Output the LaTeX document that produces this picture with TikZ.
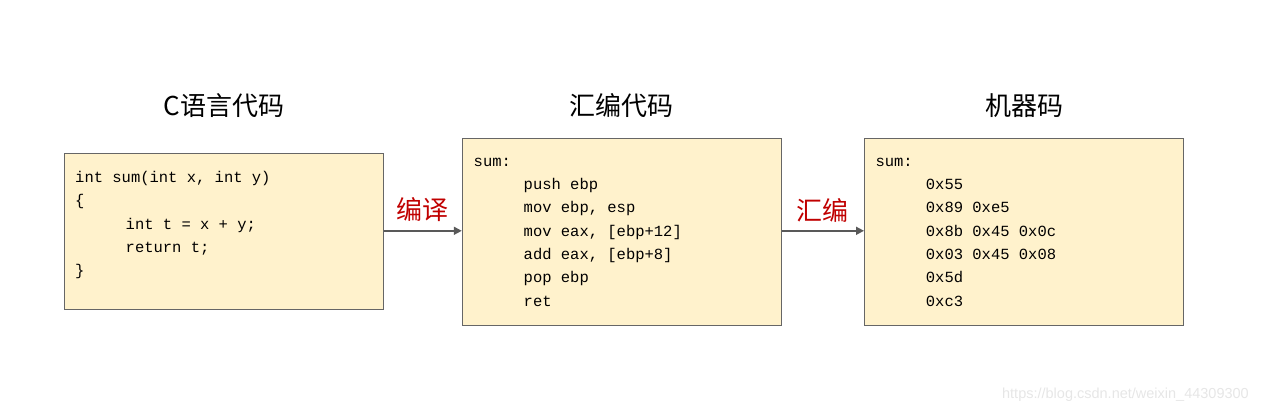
\documentclass[tikz,border=0pt]{standalone}
\usepackage{fontspec}
\setmonofont{Liberation Mono}
\newfontfamily\cjkfont{Noto Sans CJK SC}
\newfontfamily\wmfont{Liberation Sans}
\usetikzlibrary{arrows.meta}
\definecolor{boxfill}{HTML}{FFF2CC}
\definecolor{boxline}{HTML}{666666}
\definecolor{arrowgray}{HTML}{595959}
\definecolor{labelred}{HTML}{C00000}
\definecolor{wmgray}{HTML}{E6E6E6}
\tikzset{
  codebox/.style={draw=boxline, fill=boxfill, line width=1pt, minimum width=319pt, inner sep=0pt},
  codeline/.style={anchor=base west, inner sep=0pt, font=\fontsize{15.5}{18}\ttfamily},
  titletext/.style={inner sep=0pt, font=\fontsize{26}{30}\cjkfont},
  steplabel/.style={inner sep=0pt, text=labelred, font=\fontsize{26}{30}\cjkfont},
  flow/.style={draw=arrowgray, line width=1.6pt, -{Triangle[length=8pt,width=8pt]}}
}
\begin{document}
\begin{tikzpicture}[x=1pt,y=-1pt]
\useasboundingbox (0,0) rectangle (1262,413);
% boxes
\node[codebox, minimum height=156pt] (cbox) at (223.8,231.3) {};
\node[codebox, minimum height=187pt] (abox) at (621.8,231.6) {};
\node[codebox, minimum height=187pt] (mbox) at (1024,231.6) {};
% titles
\node[titletext] (ctitle) at (223.8,105.5) {C语言代码};
\node[titletext] (atitle) at (621.8,105.5) {汇编代码};
\node[titletext] (mtitle) at (1024,105.5) {机器码};
% C code
\node[codeline] (c1) at (75,182.7) {int sum(int x, int y)};
\node[codeline] (c2) at (75,205.9) {\{};
\node[codeline] (c3) at (125.5,229.1) {int t = x + y;};
\node[codeline] (c4) at (125.5,252.3) {return t;};
\node[codeline] (c5) at (75,275.5) {\}};
% assembly
\node[codeline] (a1) at (473.5,166) {sum:};
\node[codeline] (a2) at (523.5,189.3) {push ebp};
\node[codeline] (a3) at (523.5,212.7) {mov ebp, esp};
\node[codeline] (a4) at (523.5,236) {mov eax, [ebp+12]};
\node[codeline] (a5) at (523.5,259.3) {add eax, [ebp+8]};
\node[codeline] (a6) at (523.5,282.7) {pop ebp};
\node[codeline] (a7) at (523.5,306) {ret};
% machine code
\node[codeline] (m1) at (875.3,166) {sum:};
\node[codeline] (m2) at (925.7,189.3) {0x55};
\node[codeline] (m3) at (925.7,212.7) {0x89 0xe5};
\node[codeline] (m4) at (925.7,236) {0x8b 0x45 0x0c};
\node[codeline] (m5) at (925.7,259.3) {0x03 0x45 0x08};
\node[codeline] (m6) at (925.7,282.7) {0x5d};
\node[codeline] (m7) at (925.7,306) {0xc3};
% arrows
\draw[flow] (cbox.east |- 0,230.8) coordinate (s1) -- (abox.west |- s1);
\draw[flow] (abox.east |- 0,230.8) coordinate (s2) -- (mbox.west |- s2);
\node[steplabel] (lbl1) at (422.5,210) {编译};
\node[steplabel] (lbl2) at (822,210) {汇编};
% watermark
\node[inner sep=0pt, anchor=east, text=wmgray, font=\fontsize{14.5}{16}\wmfont] (wm) at (1249,395) {https://blog.csdn.net/weixin\_44309300};
\end{tikzpicture}
\end{document}
